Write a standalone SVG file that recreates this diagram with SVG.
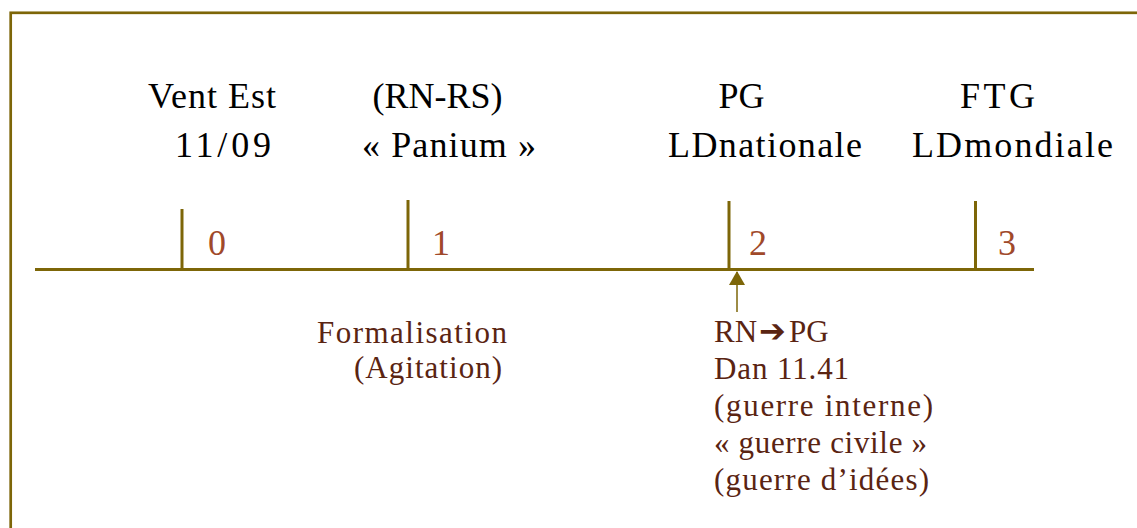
<svg xmlns="http://www.w3.org/2000/svg" width="1137" height="528" viewBox="0 0 1137 528">
<defs>
<style>
.top{font-family:"Liberation Serif","Times New Roman",serif;font-size:36px;fill:#000}
.num{font-family:"Liberation Serif","Times New Roman",serif;font-size:36px;fill:#A0492A}
.low{font-family:"Liberation Serif","Times New Roman",serif;font-size:31px;fill:#5A2412}
.ln{stroke:#7D6608;stroke-width:3;fill:none}
</style>
<marker id="ah" markerWidth="16" markerHeight="14" refX="8" refY="1" orient="0" markerUnits="userSpaceOnUse">
<polygon points="8,0 16,14 0,14" fill="#7D6608"/>
</marker>
</defs>
<rect width="1137" height="528" fill="#fff"/>
<rect id="frame" x="10.7" y="12.8" width="1300" height="700" fill="none" stroke="#7D6608" stroke-width="2.7"/>
<g id="connectors">
<line class="ln" x1="35" y1="269.5" x2="1034" y2="269.5"/>
<line class="ln" x1="182" y1="209" x2="182" y2="269"/>
<line class="ln" x1="408" y1="200" x2="408" y2="269"/>
<line class="ln" x1="729" y1="201" x2="729" y2="269"/>
<line class="ln" x1="975.5" y1="201" x2="975.5" y2="269"/>
<line x1="737" y1="312" x2="737" y2="272" stroke="#7D6608" stroke-width="1.5" marker-end="url(#ah)"/>
</g>
<g id="node-0">
<text class="top" x="148" y="108" textLength="128">Vent Est</text>
<text class="top" x="175" y="157" textLength="96">11/09</text>
<text class="num" x="208" y="255">0</text>
</g>
<g id="node-1">
<text class="top" x="437.5" y="108" text-anchor="middle">(RN-RS)</text>
<text class="top" x="362" y="157" textLength="174">« Panium »</text>
<text class="num" x="432" y="255">1</text>
<text class="low" x="317" y="343" textLength="190">Formalisation</text>
<text class="low" x="354" y="378" textLength="148">(Agitation)</text>
</g>
<g id="node-2">
<text class="top" x="741.5" y="108" text-anchor="middle">PG</text>
<text class="top" x="668" y="157" textLength="194">LDnationale</text>
<text class="num" x="749" y="255">2</text>
<text class="low" y="342"><tspan x="714">RN</tspan><tspan x="759" font-family="DejaVu Sans,sans-serif" font-weight="bold" font-size="32" fill="#5A2412">➔</tspan><tspan x="789">PG</tspan></text>
<text class="low" x="714" y="379" textLength="135">Dan 11.41</text>
<text class="low" x="714" y="416" textLength="219">(guerre interne)</text>
<text class="low" x="714" y="453" textLength="213">« guerre civile »</text>
<text class="low" x="714" y="490" textLength="215">(guerre d’idées)</text>
</g>
<g id="node-3">
<text class="top" x="960" y="108" textLength="75">FTG</text>
<text class="top" x="912" y="157" textLength="201">LDmondiale</text>
<text class="num" x="998" y="255">3</text>
</g>
</svg>
